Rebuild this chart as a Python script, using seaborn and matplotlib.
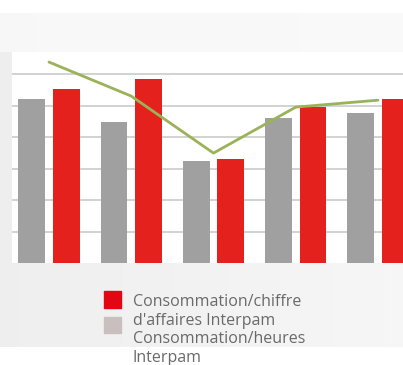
import numpy as np
import pandas as pd
import matplotlib
matplotlib.use("Agg")
import matplotlib.pyplot as plt
import seaborn as sns
from matplotlib.patches import Rectangle

# Data
years = ["2010", "2011", "2012", "2013", "2014"]
conso_heures = [5.20, 4.48, 3.24, 4.59, 4.77]      # grey bars
conso_chiffre = [5.53, 5.83, 3.29, 4.94, 5.20]     # red bars
tendance = [6.38, 5.30, 3.49, 4.95, 5.17]          # green line
legend_lines = ["Consommation/chiffre", "d'affaires Interpam",
                "Consommation/heures", "Interpam"]

sns.set_theme(style="white")
plt.rcParams["font.family"] = ["Open Sans", "DejaVu Sans"]

W, H = 403, 365
fig = plt.figure(figsize=(W / 100, H / 100), dpi=100)

# Soft grey page background, very light band above the chart, white strip at the bottom
bg = fig.add_axes([0, 0, 1, 1], zorder=-10)
xs = np.linspace(0, 1, W)
grey = 0.936 + 0.03 * xs
img = np.tile(grey, (H, 1))
img[:13, :] = 1.0
img[13:52, :] = np.tile(0.972 + 0.006 * xs, (39, 1))
img[347:, :] = 1.0
bg.imshow(np.dstack([img] * 3), aspect="auto", extent=[0, 1, 0, 1], origin="upper")
bg.set_axis_off()

# Chart area
px_left, px_right, px_top, px_bottom = 12, 415, 52, 263
ax = fig.add_axes([px_left / W, 1 - px_bottom / H,
                   (px_right - px_left) / W, (px_bottom - px_top) / H])
ax.set_facecolor("white")

df = pd.DataFrame({
    "annee": years * 2,
    "valeur": conso_heures + conso_chiffre,
    "serie": ["heures"] * 5 + ["chiffre"] * 5,
})
sns.barplot(data=df, x="annee", y="valeur", hue="serie",
            palette={"heures": "#a0a0a0", "chiffre": "#e4211c"},
            width=0.84, gap=0.22, ax=ax, legend=False, zorder=3,
            linewidth=0, saturation=1)
sns.lineplot(x=np.arange(len(years)), y=tendance, color="#9ab258",
             linewidth=2.0, ax=ax, zorder=4)

ax.set_xlim(-0.45, 4.45)
ax.set_ylim(0, 6.7)
ax.set_yticks([1, 2, 3, 4, 5, 6])
ax.yaxis.grid(True, color="#d2d2d2", linewidth=1.4, zorder=0)
ax.set_axisbelow(True)
ax.set_xticks([])
ax.tick_params(left=False, bottom=False, labelleft=False)
ax.set_xlabel("")
ax.set_ylabel("")
for s in ax.spines.values():
    s.set_visible(False)

# Legend
fig.patches.append(Rectangle((104 / W, 1 - 308 / H), 17 / W, 17 / H,
                             transform=fig.transFigure, color="#e30613"))
fig.patches.append(Rectangle((104 / W, 1 - 333 / H), 17 / W, 16 / H,
                             transform=fig.transFigure, color="#c9bfbf"))
baselines = [306, 325, 343, 362]
for txt, yb in zip(legend_lines, baselines):
    fig.text(133 / W, 1 - yb / H, txt, fontsize=11.5, color="#6a6a6a",
             va="baseline", ha="left")

fig.savefig("out.png", dpi=100)
